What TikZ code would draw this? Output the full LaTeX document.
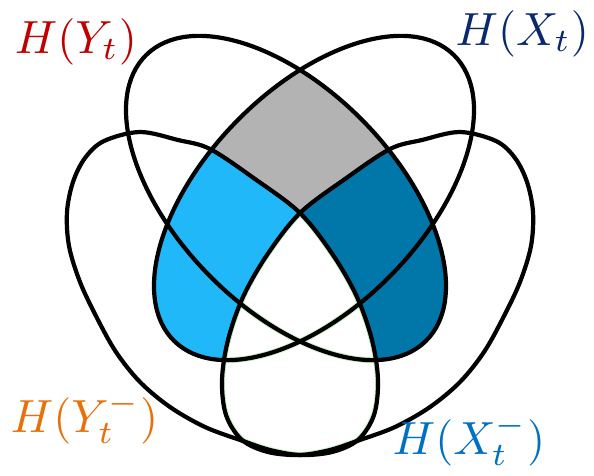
\documentclass[tikz,border=0pt]{standalone}
\definecolor{grayreg}{RGB}{179,179,179}
\definecolor{lightreg}{RGB}{32,184,248}
\definecolor{darkreg}{RGB}{0,119,168}
\definecolor{redtxt}{RGB}{192,0,0}
\definecolor{navytxt}{RGB}{10,40,110}
\definecolor{orangetxt}{RGB}{232,112,10}
\definecolor{bluetxt}{RGB}{0,112,192}
\definecolor{halo}{RGB}{200,240,200}
\def\pathA{(286,198) ellipse [x radius=200pt, y radius=109pt, rotate=-45.7]}
\def\pathB{(314,198) ellipse [x radius=200pt, y radius=109pt, rotate=45.7]}
\def\pathC{plot[smooth cycle, tension=0.55] coordinates {(104,141) (140,132) (178,140) (210,149) (255,179) (300,213) (333,255) (357,297) (372,340) (378,380) (374,415) (358,440) (332,452) (300,455) (270,450) (243,441) (205,427) (170,407) (140,382) (116,352) (97,318) (80,282) (69,246) (67,212) (73,182) (85,158)}}
\def\pathD{plot[smooth cycle, tension=0.55] coordinates {(496,141) (460,132) (422,140) (390,149) (345,179) (300,213) (267,255) (243,297) (228,340) (222,380) (226,415) (242,440) (268,452) (300,455) (330,450) (357,441) (395,427) (430,407) (460,382) (484,352) (503,318) (520,282) (531,246) (533,212) (527,182) (515,158)}}
\begin{document}
\begin{tikzpicture}[x=1pt,y=-1pt,
  outline/.style={line width=4.2pt, line join=round, draw=black},
  haloline/.style={line width=6pt, draw=halo},
  label/.style={inner sep=0pt, scale=4.65}]
\useasboundingbox (0,0) rectangle (594,475);
% gray: A and B
\begin{scope}
  \clip \pathA; \clip \pathB;
  \fill[grayreg] (0,0) rectangle (594,475);
\end{scope}
% dark blue: A and D
\begin{scope}
  \clip \pathA;
  \fill[darkreg] \pathD;
\end{scope}
% light blue: B and C
\begin{scope}
  \clip \pathB;
  \fill[lightreg] \pathC;
\end{scope}
% white: C and D
\begin{scope}
  \clip \pathC;
  \fill[white] \pathD;
\end{scope}
% faint green halo inside C and D
\begin{scope}
  \clip \pathC; \clip \pathD;
  \draw[haloline] \pathA;
  \draw[haloline] \pathB;
  \draw[haloline] \pathC;
  \draw[haloline] \pathD;
\end{scope}
% outlines
\draw[outline] \pathA;
\draw[outline] \pathB;
\draw[outline] \pathC;
\draw[outline] \pathD;
% labels
\node[label, anchor=base west, text=redtxt] (hy) at (14,53) {$H(Y_t)$};
\node[label, anchor=base east, text=navytxt] (hx) at (590,45) {$H(X_t)$};
\node[label, anchor=base west, text=orangetxt] (hym) at (10,432) {$H(Y_t^-)$};
\node[label, anchor=base west, text=bluetxt] (hxm) at (392,454) {$H(X_t^-)$};
\end{tikzpicture}
\end{document}
